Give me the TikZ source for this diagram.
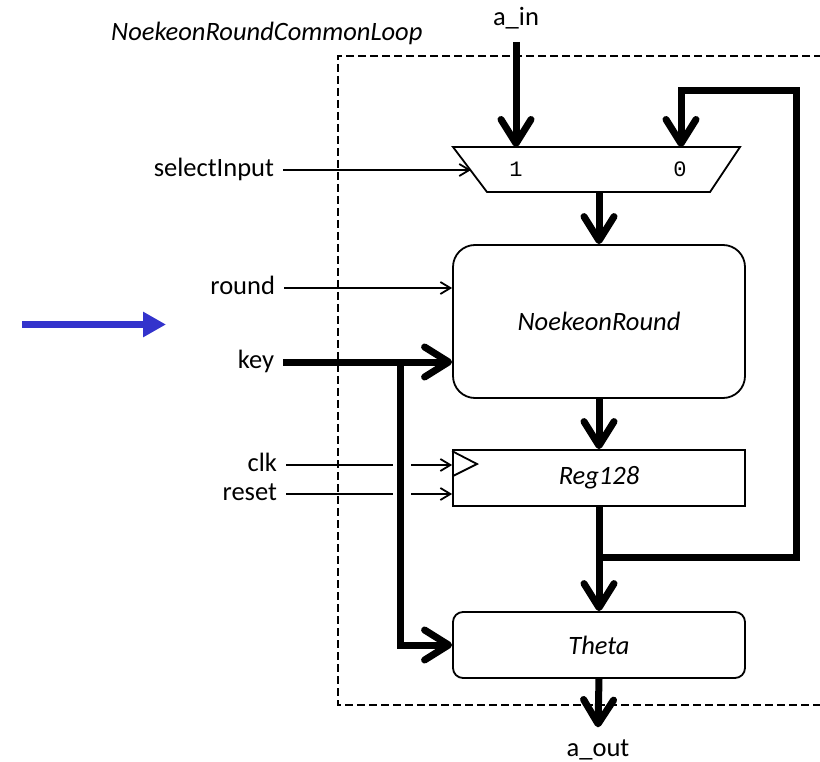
\documentclass[tikz,border=0pt]{standalone}
\usepackage{fontspec}
\setmainfont{Carlito}
\newfontfamily\muxfont{Liberation Mono}
\usetikzlibrary{arrows.meta,calc}
\definecolor{arrowblue}{RGB}{51,51,204}
\begin{document}
\begin{tikzpicture}[x=1pt,y=-1pt,
  font=\fontsize{26.5}{30}\selectfont,
  thickln/.style={line width=7pt, line join=miter},
  thinln/.style={line width=1.8pt},
  bigtip/.style={-{Straight Barb[length=24pt,width=30pt,round]}},
  smalltip/.style={-{Straight Barb[length=10pt,width=12pt]}},
  blockbox/.style={draw, line width=1.8pt, minimum width=292pt, inner sep=0pt,
    font=\fontsize{26.5}{30}\selectfont\itshape},
  sig/.style={anchor=east, inner xsep=0pt, inner ysep=0pt, outer xsep=9pt,
    text height=18pt, text depth=5pt},
  dashbox/.style={line width=1.8pt, dash pattern=on 8pt off 4pt}
]
\useasboundingbox (0,0) rectangle (820,762);

% enclosing dashed box (right side beyond the picture)
\draw[dashbox] (822,56) -- (338,56) -- (338,705) -- (822,705);

% title
\node[font=\fontsize{26.5}{30}\selectfont\itshape, anchor=west, inner sep=0pt] (title) at (111,33) {NoekeonRoundCommonLoop};

% blocks
\node[blockbox, minimum height=153pt, rounded corners=22pt] (NR) at (599,321.5) {NoekeonRound};
\node[blockbox, minimum height=56pt] (Reg) at (599,478) {Reg128};
\node[blockbox, minimum height=66pt, rounded corners=10pt] (Theta) at (599,645) {Theta};

% clock triangle
\draw[thinln] (Reg.north west) ++(0,2) coordinate (ct1) -- (477,464) coordinate (ct2) -- (453,476) coordinate (ct3);

% multiplexer
\draw[thinln, fill=white] (453,147) coordinate (mtl) -- (740,147) coordinate (mtr)
  -- (710,192) coordinate (mbr) -- (487,192) coordinate (mbl) -- cycle;
\node[font=\muxfont\fontsize{22}{24}\selectfont] (m1) at (516,169) {1};
\node[font=\muxfont\fontsize{22}{24}\selectfont] (m0) at (680,169) {0};
\coordinate (mi1) at (516,147);
\coordinate (mi0) at (681,147);
\coordinate (ms) at (471,170);
\coordinate (mo) at (599,192);

% port labels
\node[inner sep=0pt, text height=18pt, text depth=5pt, outer ysep=11pt] (ain) at (516,19.5) {a\_in};
\node[inner sep=0pt, text height=18pt, text depth=5pt] (aout) at (598,750) {a\_out};
\node[sig] (sel) at (283,170) {selectInput};
\node[sig] (rnd) at (284,288) {round};
\node[sig] (key) at (283,362) {key};
\node[sig] (clk) at (286,465) {clk};
\node[sig] (rst) at (286,494) {reset};

% data path
\draw[thickln,bigtip] (ain.south) -- (mi1);
\draw[thickln,bigtip] (mo) -- (NR.north);
\draw[thickln,bigtip] (NR.south) -- (Reg.north);
\draw[thickln,bigtip] (Reg.south) -- (Theta.north);
\draw[thickln,bigtip] (Theta.south) -- ($(aout.north)+(0,-11)$);

% feedback
\coordinate (fb1) at (599,557);
\coordinate (fb2) at (796,557);
\coordinate (fb3) at (796,91);
\coordinate (fb4) at (681,91);
\draw[thickln,bigtip] (fb1) -- (fb2) -- (fb3) -- (fb4) -- (mi0);

% key
\draw[thickln,bigtip] (key.east) -- (key.east -| NR.west);
\coordinate (kb) at (400,362);
\draw[thickln,bigtip] (kb) |- (Theta.west);

% control inputs
\draw[thinln,smalltip] (sel.east) -- (ms);
\draw[thinln,smalltip] (rnd.east) -- (rnd.east -| NR.west);
\coordinate (cg1) at (393,465);
\coordinate (cg2) at (411,465);
\draw[thinln] (clk.east) -- (cg1);
\draw[thinln,smalltip] (cg2) -- (clk.east -| Reg.west);
\coordinate (rg1) at (393,494);
\coordinate (rg2) at (411,494);
\draw[thinln] (rst.east) -- (rg1);
\draw[thinln,smalltip] (rg2) -- (rst.east -| Reg.west);

% blue pointer arrow
\coordinate (ba1) at (22,324.5);
\coordinate (ba2) at (166,324.5);
\draw[line width=7pt, arrowblue, -{Triangle[length=23pt,width=24pt]}] (ba1) -- (ba2);
\end{tikzpicture}
\end{document}
